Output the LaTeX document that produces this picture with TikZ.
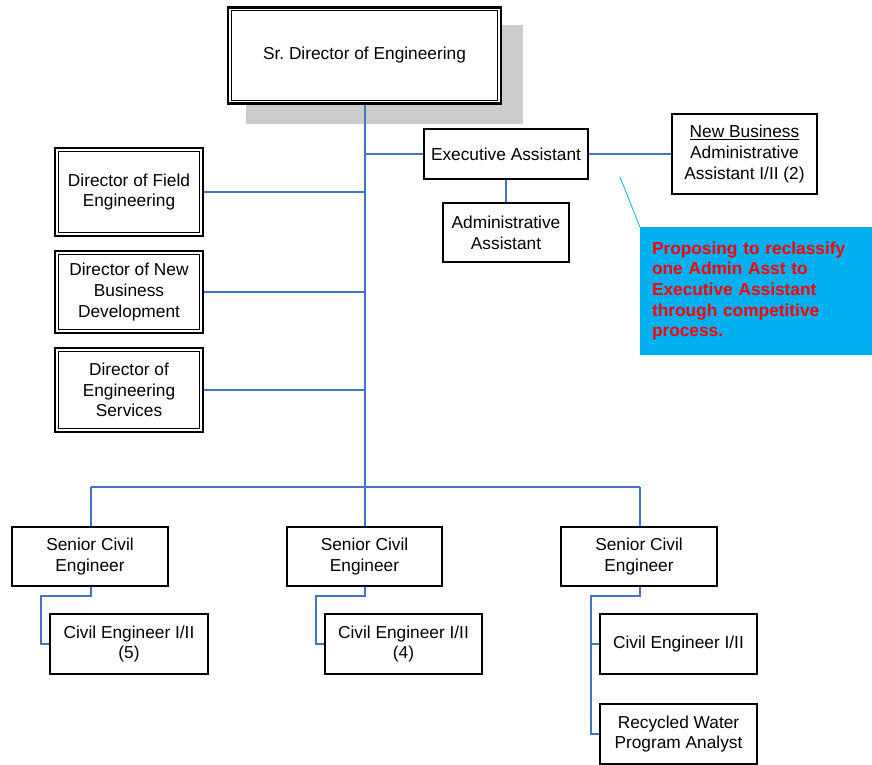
\documentclass[tikz,border=0pt]{standalone}
\usepackage{fontspec}
\setmainfont{Liberation Sans}
\frenchspacing
\definecolor{linkblue}{RGB}{68,114,196}
\definecolor{notecyan}{RGB}{0,176,240}
\definecolor{shadowgray}{RGB}{204,204,204}
\begin{document}
\begin{tikzpicture}[x=1pt,y=-1pt,
  every node/.style={font=\fontsize{17.3}{20.8}\selectfont, align=center, inner sep=0pt},
  box/.style={draw=black, line width=1.4pt, fill=white},
  dblbox/.style={draw=black, line width=2.2pt, fill=white},
  link/.style={draw=linkblue, line width=1.5pt}]
\useasboundingbox (0,0) rectangle (872,765);

% drop shadow behind the top position
\fill[shadowgray] (246,25) rectangle (523,124);

% positions
\node[dblbox, minimum width=273, minimum height=96] (top) at (364.5,55.5) {Sr. Director of Engineering};
\node[box, minimum width=164, minimum height=50] (ea) at (506,154) {Executive Assistant};
\node[box, minimum width=145, minimum height=80] (nb) at (744.5,154) {\underline{New Business}\\Administrative\\Assistant I/II (2)};
\node[box, minimum width=126, minimum height=59] (aa) at (506,232.5) {Administrative\\Assistant};

\node[dblbox, minimum width=148, minimum height=88] (dfe) at (129,192) {Director of Field\\Engineering};
\node[dblbox, minimum width=148, minimum height=82] (dnb) at (129,292) {Director of New\\Business\\Development};
\node[dblbox, minimum width=148, minimum height=84] (des) at (129,390) {Director of\\Engineering\\Services};

\foreach \n in {top,dfe,dnb,des}
  \draw[line width=0.9pt] ([shift={(4.5,4.5)}]\n.north west) rectangle ([shift={(-4.5,-4.5)}]\n.south east);

\node[box, minimum width=156, minimum height=59] (sce1) at (90,556.5) {Senior Civil\\Engineer};
\node[box, minimum width=155, minimum height=59] (sce2) at (364.5,556.5) {Senior Civil\\Engineer};
\node[box, minimum width=156, minimum height=59] (sce3) at (639,556.5) {Senior Civil\\Engineer};

\node[box, minimum width=158, minimum height=60] (ce1) at (129,644) {Civil Engineer I/II\\(5)};
\node[box, minimum width=157, minimum height=60] (ce2) at (403.5,644) {Civil Engineer I/II\\(4)};
\node[box, minimum width=157, minimum height=60] (ce3) at (678.5,644) {Civil Engineer I/II};
\node[box, minimum width=157, minimum height=60] (rwa) at (678.5,734) {Recycled Water\\Program Analyst};

% callout
\node[fill=notecyan, minimum width=232, minimum height=128, text width=208, align=left,
      inner xsep=12pt, font=\fontsize{17.3}{20.7}\selectfont\bfseries, text=red] (note) at (756,291)
  {Proposing to reclassify\\one Admin Asst to\\Executive Assistant\\through competitive\\process.};
\coordinate (tip) at (620,177);
\draw[notecyan, line width=0.8pt] (tip) -- (note.north west);

% reporting lines
\coordinate (busc) at (365,487);
\coordinate (busl) at (91,487);
\coordinate (busr) at (640,487);
\path[link] (top.south -| busc) -- (busc);
\path[link] (busl) -- (busr);
\path[link] (busl) -- (busl |- sce1.north);
\path[link] (busc) -- (busc |- sce2.north);
\path[link] (busr) -- (busr |- sce3.north);

\path[link] (dfe.east) -- (dfe.east -| busc);
\path[link] (dnb.east) -- (dnb.east -| busc);
\path[link] (des.east) -- (des.east -| busc);
\path[link] (ea.west -| busc) -- (ea.west);
\path[link] (ea.east) -- (nb.west);
\path[link] (ea.south) -- (aa.north);

\path[link] (sce1.south -| busl) -- (91,596) -- (41,596) -- (41,644) -- (ce1.west);
\path[link] (sce2.south -| busc) -- (365,596) -- (316,596) -- (316,644) -- (ce2.west);
\path[link] (sce3.south -| busr) -- (640,596) -- (591,596) -- (591,734) -- (rwa.west);
\path[link] (591,644) -- (ce3.west);
\end{tikzpicture}
\end{document}
